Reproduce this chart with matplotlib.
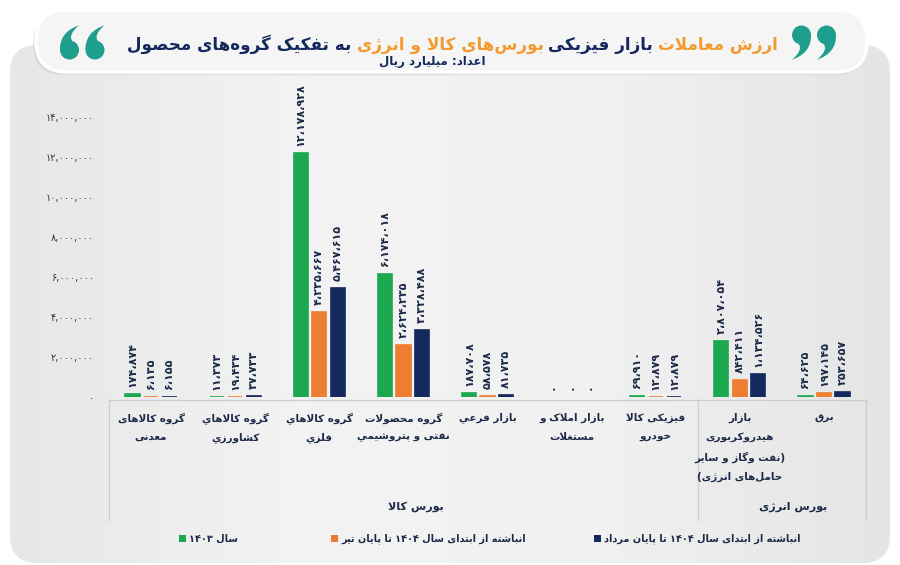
import re
import matplotlib
matplotlib.use('Agg')
import matplotlib.pyplot as plt
import numpy as np
from matplotlib.patches import FancyBboxPatch, Rectangle, PathPatch, Circle
from matplotlib.path import Path
from matplotlib.transforms import blended_transform_factory
from matplotlib.colors import LinearSegmentedColormap

plt.rcParams['font.family'] = ['DejaVu Sans']

# ---- data ----
categories = [
    'گروه کالاهای\nمعدنی',
    'گروه کالاهاي\nکشاورزي',
    'گروه کالاهاي\nفلزي',
    'گروه محصولات\nنفتی و پتروشیمي',
    'بازار فرعي',
    'بازار املاک و\nمستغلات',
    'فیزیکی کالا\nخودرو',
    'بازار\nهیدروکربوری\n(نفت وگاز و سایر\nحامل‌های انرژی)',
    'برق',
]
sales_1403 = [174874, 11373, 12178928, 6174018, 187708, 0, 69910, 2807054, 64625]
cum_tir_1404 = [6135, 19434, 4235667, 2624235, 58578, 0, 12879, 842411, 197145]
cum_mordad_1404 = [6155, 37733, 5467615, 3328488, 81735, 0, 12879, 1134526, 253657]
series_names = [
    'سال ۱۴۰۳',
    'انباشته از ابتدای سال ۱۴۰۴ تا پایان تیر',
    'انباشته از ابتدای سال ۱۴۰۴ تا پایان مرداد',
]
y_ticks = [0, 2000000, 4000000, 6000000, 8000000, 10000000, 12000000, 14000000]
group_names = ['بورس کالا', 'بورس انرژی']
title_parts = ['ارزش معاملات', 'بازار فیزیکی', 'بورس‌های کالا و انرژی', 'به تفکیک گروه‌های محصول']
subtitle = 'اعداد: میلیارد ریال'

GREEN = '#1BA84F'
ORANGE = '#ED7D31'
NAVY = '#13285C'
TEXT = '#1C2A48'
TITLE_ORANGE = '#F29A2E'
TEAL = '#1E9E8C'

# ---- minimal persian shaping + rtl ordering ----
FORMS = {
    'آ': '\uFE81\uFE82', 'ا': '\uFE8D\uFE8E',
    'ب': '\uFE8F\uFE90\uFE91\uFE92', 'پ': '\uFB56\uFB57\uFB58\uFB59',
    'ت': '\uFE95\uFE96\uFE97\uFE98', 'ث': '\uFE99\uFE9A\uFE9B\uFE9C',
    'ج': '\uFE9D\uFE9E\uFE9F\uFEA0', 'چ': '\uFB7A\uFB7B\uFB7C\uFB7D',
    'ح': '\uFEA1\uFEA2\uFEA3\uFEA4', 'خ': '\uFEA5\uFEA6\uFEA7\uFEA8',
    'د': '\uFEA9\uFEAA', 'ذ': '\uFEAB\uFEAC', 'ر': '\uFEAD\uFEAE',
    'ز': '\uFEAF\uFEB0', 'ژ': '\uFB8A\uFB8B',
    'س': '\uFEB1\uFEB2\uFEB3\uFEB4', 'ش': '\uFEB5\uFEB6\uFEB7\uFEB8',
    'ص': '\uFEB9\uFEBA\uFEBB\uFEBC', 'ض': '\uFEBD\uFEBE\uFEBF\uFEC0',
    'ط': '\uFEC1\uFEC2\uFEC3\uFEC4', 'ظ': '\uFEC5\uFEC6\uFEC7\uFEC8',
    'ع': '\uFEC9\uFECA\uFECB\uFECC', 'غ': '\uFECD\uFECE\uFECF\uFED0',
    'ف': '\uFED1\uFED2\uFED3\uFED4', 'ق': '\uFED5\uFED6\uFED7\uFED8',
    'ك': '\uFED9\uFEDA\uFEDB\uFEDC', 'ک': '\uFB8E\uFB8F\uFB90\uFB91',
    'گ': '\uFB92\uFB93\uFB94\uFB95', 'ل': '\uFEDD\uFEDE\uFEDF\uFEE0',
    'م': '\uFEE1\uFEE2\uFEE3\uFEE4', 'ن': '\uFEE5\uFEE6\uFEE7\uFEE8',
    'ه': '\uFEE9\uFEEA\uFEEB\uFEEC', 'و': '\uFEED\uFEEE',
    'ي': '\uFEF1\uFEF2\uFEF3\uFEF4', 'ی': '\uFBFC\uFBFD\uFBFE\uFBFF',
}
LAM_ALEF = {'ا': '\uFEFB\uFEFC', 'آ': '\uFEF5\uFEF6'}
MIRROR = str.maketrans('()', ')(')
FA_DIGITS = str.maketrans('0123456789', '۰۱۲۳۴۵۶۷۸۹')


def shape(s):
    chars = []
    i = 0
    while i < len(s):
        if s[i] == 'ل' and i + 1 < len(s) and s[i + 1] in LAM_ALEF:
            chars.append(('LA', s[i + 1]))
            i += 2
        else:
            chars.append(s[i])
            i += 1

    def dual(c):
        return isinstance(c, str) and c in FORMS and len(FORMS[c]) == 4

    def joinable(c):
        return isinstance(c, tuple) or (isinstance(c, str) and c in FORMS)

    out = []
    for i, c in enumerate(chars):
        p = i > 0 and dual(chars[i - 1])
        if isinstance(c, tuple):
            f = LAM_ALEF[c[1]]
            out.append(f[1] if p else f[0])
            continue
        if c not in FORMS:
            out.append(c)
            continue
        f = FORMS[c]
        n = len(f) == 4 and i + 1 < len(chars) and joinable(chars[i + 1])
        if p and n:
            out.append(f[3])
        elif p:
            out.append(f[1])
        elif n:
            out.append(f[2])
        else:
            out.append(f[0])
    return ''.join(out).replace('\u200c', '')


def fa(s):
    lines = []
    for line in s.split('\n'):
        sh = shape(line)
        parts = re.findall(r'[0-9۰-۹]+(?:[,،][0-9۰-۹]+)*|[^0-9۰-۹]+', sh)
        vis = []
        for p in reversed(parts):
            if p[0] in '0123456789۰۱۲۳۴۵۶۷۸۹':
                vis.append(p)
            else:
                vis.append(p[::-1].translate(MIRROR))
        lines.append(''.join(vis))
    return '\n'.join(lines)


def fa_num(v, sep='،'):
    return f'{int(v):,}'.replace(',', sep).translate(FA_DIGITS)


# ---- figure ----
fig = plt.figure(figsize=(9, 5.65), dpi=100)
fig.patch.set_facecolor('white')

bg = fig.add_axes([0, 0, 1, 1], zorder=0)
bg.set_xlim(0, 900)
bg.set_ylim(565, 0)
bg.axis('off')

panel = FancyBboxPatch((10, 45), 880, 518, boxstyle='round,pad=0,rounding_size=28',
                       fc='#ececec', ec='none')
bg.add_patch(panel)
grad = LinearSegmentedColormap.from_list('g', ['#e7e7e7', '#f3f3f3', '#f1f1f1', '#e5e5e5'])
im = bg.imshow(np.linspace(0, 1, 256)[None, :], cmap=grad, aspect='auto',
               extent=(10, 890, 563, 45), zorder=1)
im.set_clip_path(panel)

shadow = FancyBboxPatch((33, 13), 834, 62, boxstyle='round,pad=0,rounding_size=31',
                        fc='#d4d4d4', ec='none', alpha=0.7, zorder=2)
bg.add_patch(shadow)
pill = FancyBboxPatch((36, 10), 831, 62, boxstyle='round,pad=0,rounding_size=31',
                      fc='#f5f5f5', ec='white', lw=2.5, zorder=3)
bg.add_patch(pill)


# quote marks drawn as round head + tail ("9"), rotated for "6"
def quote_glyph(cx, cy, r, flip=False):
    s = -1 if flip else 1
    pts = [(r, 0), (1.05 * r, 1.9 * r), (-1.0 * r, 2.6 * r),
           (0.2 * r, 1.6 * r), (-0.3 * r, 0.95 * r), (r, 0)]
    verts = [(cx + s * dx, cy + s * dy) for dx, dy in pts]
    codes = [Path.MOVETO, Path.CURVE3, Path.CURVE3, Path.CURVE3, Path.CURVE3, Path.CLOSEPOLY]
    bg.add_patch(PathPatch(Path(verts, codes), fc=TEAL, ec='none', zorder=4))
    bg.add_patch(Circle((cx, cy), r, fc=TEAL, ec='none', zorder=4))

for qx in (69.5, 95):
    quote_glyph(qx, 50, 9.5, flip=True)
for qx in (801.5, 826.5):
    quote_glyph(qx, 35, 9.5)

# title in colored pieces, right to left
renderer = fig.canvas.get_renderer()
title_colors = [TITLE_ORANGE, NAVY, TITLE_ORANGE, NAVY]
pieces = []
for txt, col in zip(title_parts, title_colors):
    t = bg.text(0, 50, fa(txt), fontsize=15, weight='bold', color=col,
                ha='left', va='baseline', zorder=5)
    pieces.append(t)
widths = [t.get_window_extent(renderer).width for t in pieces]
gap = 6
total = sum(widths) + gap * (len(widths) - 1)
scale = 650 / total
for t in pieces:
    t.set_fontsize(15 * scale)
widths = [t.get_window_extent(renderer).width for t in pieces]
x = 778
for t, w in zip(pieces, widths):
    t.set_x(x - w)
    x -= w + gap * scale

bg.text(432, 62, fa(subtitle), fontsize=8.5, weight='bold', color=NAVY,
        ha='center', va='center', zorder=5)

# ---- bar chart ----
ax = fig.add_axes([109 / 900, (565 - 397) / 565, 757 / 900, 297 / 565], zorder=2)
ax.patch.set_alpha(0)
for s in ax.spines.values():
    s.set_visible(False)

xs = np.arange(len(categories))
width = 0.17
offsets = [-0.22, 0, 0.22]
series = [sales_1403, cum_tir_1404, cum_mordad_1404]
colors = [GREEN, ORANGE, NAVY]
for vals, off, col in zip(series, offsets, colors):
    edges = [col if v > 0 else 'none' for v in vals]
    ax.bar(xs + off, vals, width=width, color=col, edgecolor=edges, linewidth=1.2)
    for xi, v in zip(xs, vals):
        ax.annotate(fa_num(v), (xi + off, v), xytext=(0, 5), textcoords='offset points',
                    rotation=90, ha='center', va='bottom', fontsize=8,
                    weight='bold', color=TEXT)

ax.set_xlim(-0.5, len(categories) - 0.5)
ax.set_ylim(0, 14.85e6)
ax.set_xticks([])
ax.set_yticks(y_ticks)
ax.set_yticklabels([fa_num(v, ',') for v in y_ticks])
ax.tick_params(axis='y', length=0, pad=11, labelsize=7, labelcolor='#333333')

# category labels and table lines
tr = blended_transform_factory(ax.transData, bg.transData)
for xi, cat in zip(xs, categories):
    for k, line in enumerate(cat.split('\n')):
        bg.text(xi, 418 + 19.5 * k, fa(line), transform=tr, ha='center', va='center',
                fontsize=7.5, weight='bold', color=TEXT, zorder=5)

bg.text(3.15, 507, fa(group_names[0]), transform=tr, ha='center', va='center',
        fontsize=8, weight='bold', color=TEXT, zorder=5)
bg.text(7.63, 507, fa(group_names[1]), transform=tr, ha='center', va='center',
        fontsize=8, weight='bold', color=TEXT, zorder=5)

line_kw = dict(color='#cccccc', lw=0.9, zorder=4)
bg.plot([-0.5, 8.5], [400, 400], transform=tr, **line_kw)
for xb in [-0.5, 6.5, 8.5]:
    bg.plot([xb, xb], [400, 520], transform=tr, **line_kw)

# legend
legend_x = [179, 331, 594]
for lx, name, col in zip(legend_x, series_names, colors):
    bg.add_patch(Rectangle((lx, 535), 7, 7, fc=col, ec='none', zorder=5))
    bg.text(lx + 10, 538.5, fa(name), ha='left', va='center', fontsize=7,
            weight='bold', color=TEXT, zorder=5)

fig.savefig('out.png', dpi=100)
